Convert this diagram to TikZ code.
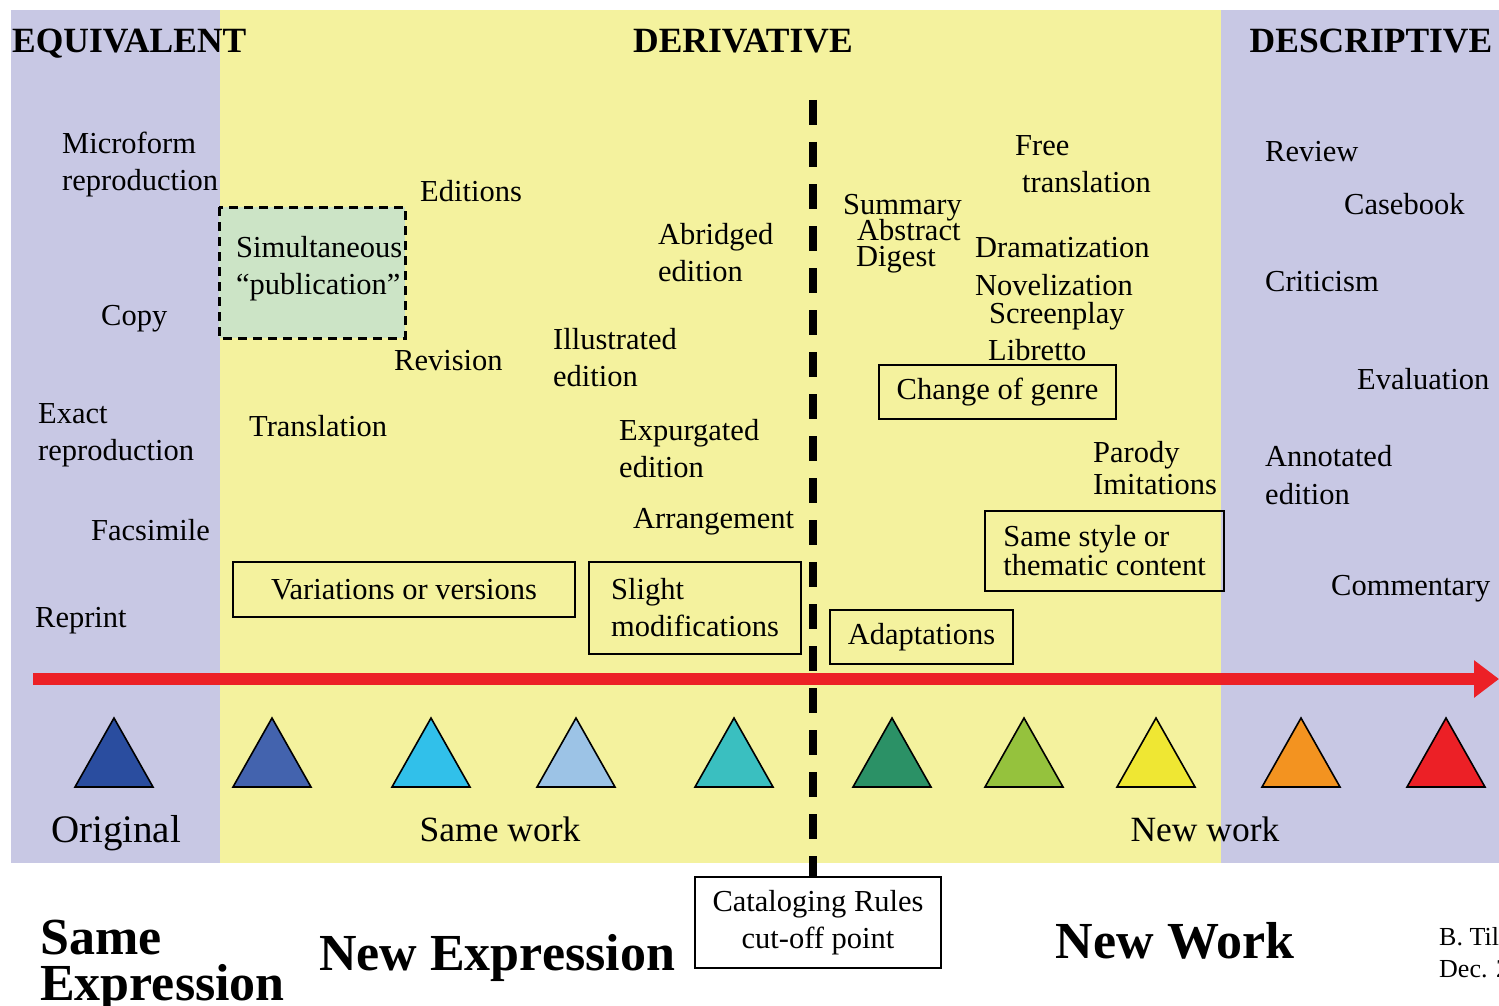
\documentclass[tikz,border=0pt]{standalone}
\usepackage{fontspec}
\setmainfont{Liberation Serif}
\usetikzlibrary{arrows.meta}
\definecolor{lav}{HTML}{C8C8E4}
\definecolor{yel}{HTML}{F4F29E}
\definecolor{grn}{HTML}{CCE4C6}
\definecolor{arrred}{HTML}{EC2026}
\definecolor{tA}{HTML}{2A4D9F}
\definecolor{tB}{HTML}{4363AE}
\definecolor{tC}{HTML}{31C0EA}
\definecolor{tD}{HTML}{9CC3E6}
\definecolor{tE}{HTML}{3ABFC0}
\definecolor{tF}{HTML}{2B9166}
\definecolor{tG}{HTML}{95C23D}
\definecolor{tH}{HTML}{EFE733}
\definecolor{tI}{HTML}{F39320}
\definecolor{tJ}{HTML}{EC2026}
\begin{document}
\begin{tikzpicture}[x=1pt,y=-1pt,
  txt/.style={font=\fontsize{30.5}{37}\selectfont, inner sep=0pt, anchor=base west, align=left},
  hdr/.style={font=\bfseries\fontsize{35.5}{40}\selectfont, inner sep=0pt, anchor=base},
  big/.style={font=\fontsize{35.5}{40}\selectfont, inner sep=0pt, anchor=base},
  huge/.style={font=\bfseries\fontsize{52}{46}\selectfont, inner sep=0pt},
  labbox/.style={draw=black, line width=1.4pt, inner sep=0pt, font=\fontsize{30.5}{37}\selectfont, align=center},
  tri/.style={draw=black, line width=1.6pt, line join=miter}
]
\useasboundingbox (0,0) rectangle (1499,1006);
\clip (0,0) rectangle (1499,1006);
\fill[white] (0,0) rectangle (1499,1006);
\fill[lav] (11,10) rectangle (220,863);
\fill[yel] (220,10) rectangle (1221,863);
\fill[lav] (1221,10) rectangle (1499,863);

% headers
\node[hdr, anchor=base west] (equiv) at (12,53) {EQUIVALENT};
\node[hdr] (deriv) at (743,53) {DERIVATIVE};
\node[hdr] (descr) at (1371,53) {DESCRIPTIVE};

% simultaneous publication box
\draw[fill=grn, line width=3pt, dash pattern=on 9pt off 6pt] (219,207) rectangle (405,338);
\node[txt] (simul) at (236,294) {Simultaneous\\“publication”};

% equivalent column
\node[txt] (micro) at (62,190) {Microform\\reproduction};
\node[txt] (copy) at (101,325) {Copy};
\node[txt] (exact) at (38,460) {Exact\\reproduction};
\node[txt] (facs) at (91,540) {Facsimile};
\node[txt] (reprint) at (35,627) {Reprint};

% derivative, same work
\node[txt] (editions) at (420,201) {Editions};
\node[txt] (revision) at (394,370) {Revision};
\node[txt] (transl) at (249,436) {Translation};
\node[txt] (abridged) at (658,281) {Abridged\\edition};
\node[txt] (illus) at (553,386) {Illustrated\\edition};
\node[txt] (expurg) at (619,477) {Expurgated\\edition};
\node[txt] (arrang) at (633,528) {Arrangement};
\node[labbox, minimum width=342pt, minimum height=55pt] (variations) at (404,589.5) {Variations or versions};
\node[labbox, minimum width=212pt, minimum height=92pt, align=left] (slight) at (695,608) {Slight\\modifications};

% derivative, new work
\node[txt] (summary) at (843,214) {Summary};
\node[txt] (abstract) at (857,240) {Abstract};
\node[txt] (digest) at (856,266) {Digest};
\node[txt] (free) at (1015,155) {Free};
\node[txt] (freetr) at (1022,192) {translation};
\node[txt] (drama) at (975,257) {Dramatization};
\node[txt] (novel) at (975,295) {Novelization};
\node[txt] (screen) at (989,323) {Screenplay};
\node[txt] (libretto) at (988,360) {Libretto};
\node[labbox, minimum width=237pt, minimum height=54pt] (genre) at (997.5,392) {Change of genre};
\node[txt] (parody) at (1093,462) {Parody};
\node[txt] (imit) at (1093,494) {Imitations};
\node[labbox, minimum width=239pt, minimum height=80pt, align=left, font=\fontsize{30.5}{29}\selectfont] (samestyle) at (1104.5,551) {Same style or\\thematic content};
\node[labbox, minimum width=183pt, minimum height=54pt] (adapt) at (921.5,637) {Adaptations};

% descriptive
\node[txt] (review) at (1265,161) {Review};
\node[txt] (casebook) at (1344,214) {Casebook};
\node[txt] (critic) at (1265,291) {Criticism};
\node[txt] (evalu) at (1357,389) {Evaluation};
\node[txt, font=\fontsize{30.5}{38}\selectfont] (annot) at (1265,504) {Annotated\\edition};
\node[txt] (comment) at (1331,595) {Commentary};

% arrow
\coordinate (arrS) at (33,679);
\coordinate (arrE) at (1499,679);
\draw[arrred, line width=12pt, -{Triangle[length=25pt,width=36pt]}] (arrS) -- (arrE);

% triangles
\foreach \cx/\col in {114/tA,272/tB,431/tC,576/tD,734/tE,892/tF,1024/tG,1156/tH,1301/tI,1446/tJ}{
  \filldraw[tri, fill=\col] (\cx-39,787) -- (\cx,718) -- (\cx+39,787) -- cycle;
}

% bottom labels in band
\node[big, font=\fontsize{39}{40}\selectfont] (orig) at (116,842) {Original};
\node[big] (samework) at (500,841) {Same work};
\node[big] (newwork) at (1205,841) {New work};

% cataloging cut-off
\node[labbox, minimum width=246pt, minimum height=91pt, fill=white] (catal) at (818,922.5) {Cataloging Rules\\cut-off point};
\coordinate (cuttop) at (813,100);
\draw[line width=8pt, dash pattern=on 25pt off 17pt] (cuttop) -- (cuttop |- catal.north);

% bottom headings
\node[huge, anchor=base west, align=left] (sameexp) at (40,1000) {Same\\Expression};
\node[huge, anchor=base] (newexp) at (497,970) {New Expression};
\node[huge, anchor=base] (newworkb) at (1175,958) {New Work};
\node[font=\fontsize{26}{32}\selectfont, inner sep=0pt, anchor=base west, align=left] (author) at (1439,977) {B. Til\\Dec. 2};
\end{tikzpicture}
\end{document}
